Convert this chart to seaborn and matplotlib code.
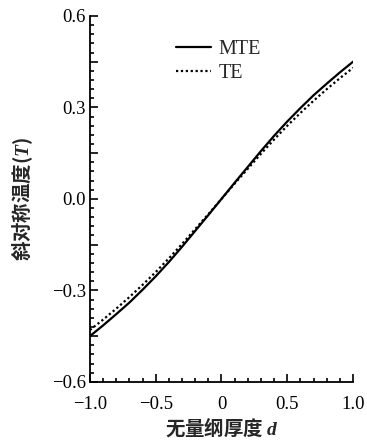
import numpy as np
import pandas as pd
import matplotlib
matplotlib.use('Agg')
import matplotlib.pyplot as plt
from matplotlib.ticker import MultipleLocator, FuncFormatter
import seaborn as sns

# values
d = [-1.0, -0.9, -0.8, -0.7, -0.6, -0.5, -0.4, -0.3, -0.2, -0.1, 0.0,
     0.1, 0.2, 0.3, 0.4, 0.5, 0.6, 0.7, 0.8, 0.9, 1.0]
mte = [-0.450, -0.415, -0.378, -0.340, -0.298, -0.254, -0.207, -0.157, -0.105, -0.053, 0.0,
       0.053, 0.105, 0.157, 0.207, 0.254, 0.298, 0.340, 0.378, 0.415, 0.450]
te = [-0.430, -0.396, -0.360, -0.322, -0.282, -0.240, -0.195, -0.148, -0.099, -0.050, 0.0,
      0.050, 0.099, 0.148, 0.195, 0.240, 0.282, 0.322, 0.360, 0.396, 0.430]
series = ['MTE', 'TE']

sns.set_style('ticks')
plt.rcParams['font.family'] = ['Liberation Serif', 'Noto Sans CJK SC']
plt.rcParams['mathtext.fontset'] = 'custom'
plt.rcParams['mathtext.it'] = 'Liberation Serif:italic:bold'

df = pd.DataFrame({'d': d * 2, 'T': mte + te,
                   'model': [series[0]] * len(d) + [series[1]] * len(d)})

fig = plt.figure(figsize=(3.67, 4.44), dpi=100)
ax = fig.add_axes([0.245, 0.14, 0.717, 0.824])

sns.lineplot(data=df, x='d', y='T', hue='model', style='model',
             palette=['black', 'black'], dashes=[(None, None), (1, 1.2)],
             linewidth=1.6, ax=ax)

ax.set_xlim(-1, 1)
ax.set_ylim(-0.6, 0.6)
ax.xaxis.set_major_locator(MultipleLocator(0.5))
ax.xaxis.set_minor_locator(MultipleLocator(0.1))
ax.yaxis.set_major_locator(MultipleLocator(0.15))
ax.yaxis.set_minor_locator(MultipleLocator(0.03))


def xfmt(v, pos):
    if abs(v) < 1e-9:
        return '0'
    return f'{v:.1f}'.replace('-', '\u2212')


def yfmt(v, pos):
    k = round(v / 0.15)
    if k % 2:
        return ''
    if abs(v) < 1e-9:
        return '0.0'
    return f'{v:.1f}'.replace('-', '\u2212')


ax.xaxis.set_major_formatter(FuncFormatter(xfmt))
ax.yaxis.set_major_formatter(FuncFormatter(yfmt))
ax.tick_params(which='both', direction='in', labelsize=13.5, width=1.2,
               colors='black', top=False, right=False)
ax.tick_params(which='major', length=6)
ax.tick_params(which='minor', length=3)
ax.tick_params(axis='x', which='major', pad=10)
ax.tick_params(axis='y', which='major', pad=3)

for s in ['top', 'right']:
    ax.spines[s].set_visible(False)
for s in ['left', 'bottom']:
    ax.spines[s].set_linewidth(1.3)
    ax.spines[s].set_color('black')

ax.set_xlabel('无量纲厚度 $d$', family=['Noto Sans CJK SC'], fontsize=14,
              fontweight='bold', labelpad=2)
ax.set_ylabel('斜对称温度($T$)', family=['Noto Sans CJK SC'], fontsize=14,
              fontweight='bold', labelpad=12)

ax.legend(loc='upper left', bbox_to_anchor=(0.26, 0.985), frameon=False,
          fontsize=14.5, handlelength=1.7, handletextpad=0.4, labelspacing=0.25,
          title=None)

fig.savefig('out.png', dpi=100)
